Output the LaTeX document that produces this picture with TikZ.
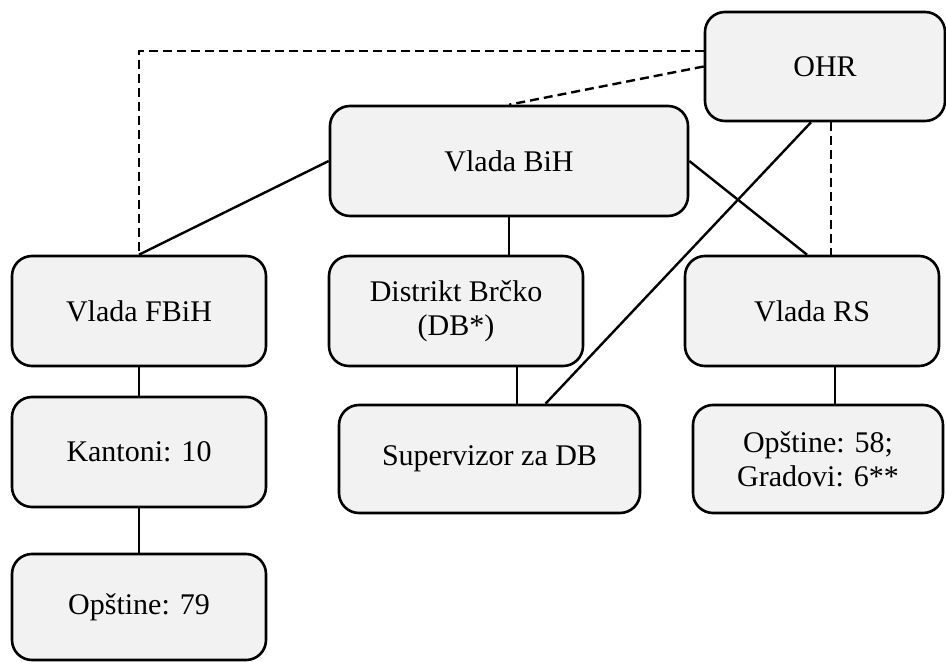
\documentclass[tikz,border=0pt]{standalone}
\usepackage{fontspec}
\setmainfont{Liberation Serif}
\begin{document}
\begin{tikzpicture}[x=0.5pt,y=-0.5pt,
  box/.style={draw=black, line width=1.3pt, fill=boxgray, rounded corners=10pt,
    align=center, inner sep=0pt, font=\fontsize{15pt}{17pt}\selectfont},
  conn/.style={draw=black, line width=1.2pt},
  dconn/.style={draw=black, line width=1.2pt, dash pattern=on 4.5pt off 2.5pt}]
\definecolor{boxgray}{HTML}{F2F2F2}
\useasboundingbox (0,0) rectangle (946,662);
\node[box, minimum width=120pt, minimum height=54.5pt] (ohr) at (825,66.5) {OHR};
\node[box, minimum width=179pt, minimum height=55pt] (vbih) at (509,161) {Vlada BiH};
\node[box, minimum width=127pt, minimum height=55pt] (fb) at (139,311) {Vlada FBiH};
\node[box, minimum width=127pt, minimum height=55pt] (db) at (456,311) {Distrikt Brčko\\(DB*)};
\node[box, minimum width=127pt, minimum height=55pt] (vrs) at (812,311) {Vlada RS};
\node[box, minimum width=127pt, minimum height=55pt] (kan) at (139,452) {Kantoni: 10};
\node[box, minimum width=150.5pt, minimum height=54pt] (sup) at (489.5,459) {Supervizor za DB};
\node[box, minimum width=125pt, minimum height=54pt] (op58) at (818,459) {Opštine: 58;\\Gradovi: 6**};
\node[box, minimum width=127pt, minimum height=53pt] (op79) at (139,607) {Opštine: 79};
% solid connectors
\draw[conn] (vbih.south) -- (vbih.south |- db.north);
\coordinate (dbs) at ([xshift=30.5pt]db.south);
\draw[conn] (dbs) -- (dbs |- sup.north);
\draw[conn] (fb.south) -- (kan.north);
\draw[conn] (kan.south) -- (op79.north);
\coordinate (vrss) at ([xshift=11.5pt]vrs.south);
\draw[conn] (vrss) -- (vrss |- op58.north);
\draw[conn] (vbih.west) -- (fb.north);
\draw[conn] (vbih.east) -- ([xshift=-2.5pt]vrs.north);
\draw[conn] ([xshift=-7pt]ohr.south) -- ([xshift=28pt]sup.north);
% dashed connectors
\coordinate (ohrs) at ([xshift=3pt]ohr.south);
\draw[dconn] (ohrs) -- (ohrs |- vrs.north);
\coordinate (ohrw) at ([yshift=7.75pt]ohr.west);
\draw[dconn] (ohrw) -- (fb.north |- ohrw) -- (fb.north);
\draw[dconn] (ohr.west) -- (vbih.north);
\end{tikzpicture}
\end{document}
